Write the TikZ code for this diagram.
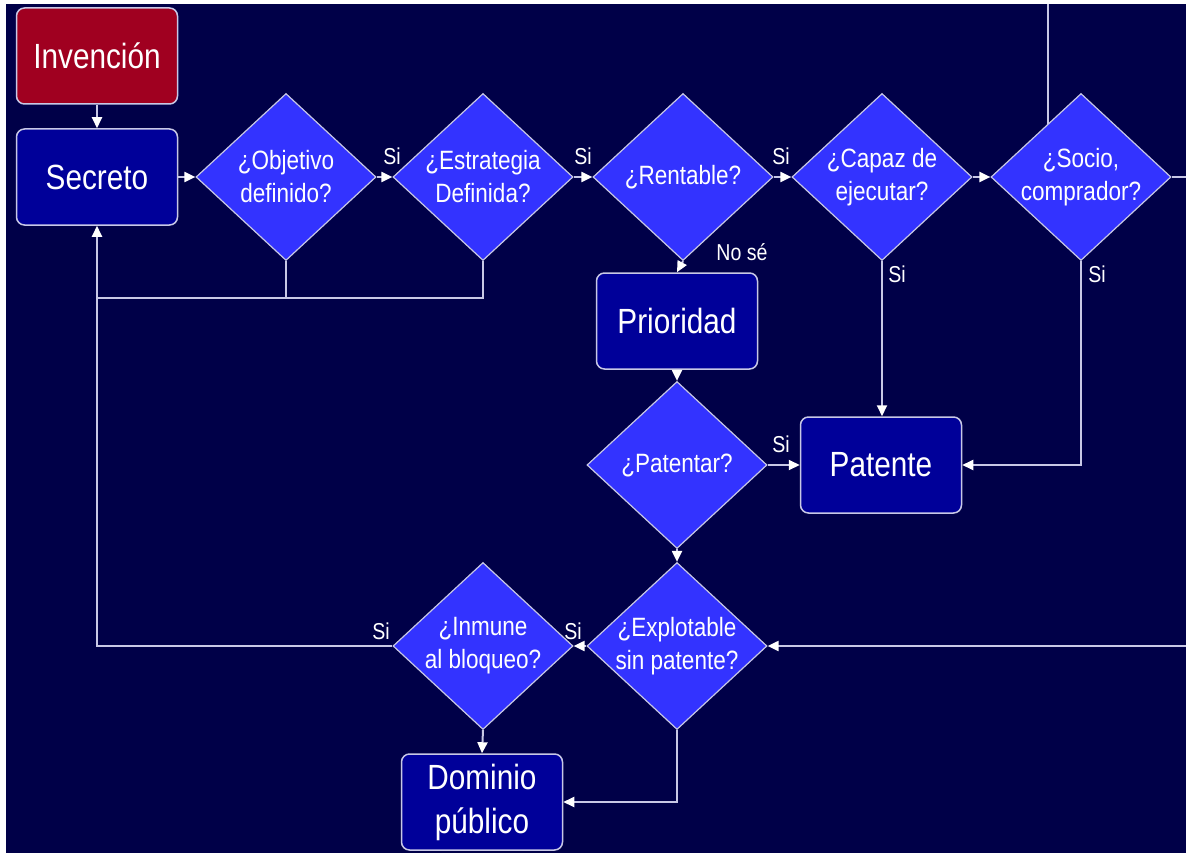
\documentclass[tikz,border=0pt]{standalone}
\usepackage{fontspec}
\setmainfont{Liberation Sans}[FakeStretch=0.85]
\usetikzlibrary{shapes.geometric,arrows.meta}
\definecolor{bg}{RGB}{0,0,72}
\definecolor{boxblue}{RGB}{0,0,153}
\definecolor{diablue}{RGB}{51,51,255}
\definecolor{invred}{RGB}{160,0,32}
\definecolor{ln}{RGB}{200,200,230}
\begin{document}
\begin{tikzpicture}[x=1pt,y=-1pt,
  box/.style={draw=ln, line width=1.5pt, rounded corners=8pt, fill=boxblue, text=white,
    minimum width=161pt, minimum height=96pt, align=center, inner sep=0pt,
    font=\fontsize{35}{44}\selectfont},
  dia/.style={diamond, draw=ln, line width=1.2pt, fill=diablue,
    minimum width=180pt, minimum height=167pt, inner sep=0pt},
  dtext/.style={text=white, align=center, font=\fontsize{26.5}{33}\selectfont, inner sep=0pt},
  lbl/.style={text=white, font=\fontsize{23}{23}\selectfont, inner sep=0pt},
  conn/.style={draw=ln, line width=2pt},
  arr/.style={conn, -{Triangle[length=11pt,width=10pt,color=white,fill=white]}}
]
\useasboundingbox (0,0) rectangle (1186,856);
\fill[white] (0,0) rectangle (1186,856);
\fill[bg] (6,4) rectangle (1186,853);

% boxes
\node[box, fill=invred] (inv) at (97,56) {Invención};
\node[box] (sec) at (97,177) {Secreto};
\node[box] (pri) at (677,321) {Prioridad};
\node[box] (pat) at (881,465) {Patente};
\node[box] (dom) at (482,802) {Dominio\\público};

% diamonds
\node[dia, label={[dtext]center:{¿Objetivo\\definido?}}] (dObj) at (286,177) {};
\node[dia, label={[dtext]center:{¿Estrategia\\Definida?}}] (dEst) at (483,177) {};
\node[dia, label={[dtext]center:{¿Rentable?}}] (dRen) at (683,177) {};
\node[dia, label={[dtext]center:{¿Capaz de\\ejecutar?}}] (dCap) at (882,177) {};
\node[dia, label={[dtext]center:{¿Socio,\\comprador?}}] (dSoc) at (1081,177) {};
\node[dia, label={[dtext]center:{¿Patentar?}}] (dPat) at (677,465) {};
\node[dia, label={[dtext]center:{¿Explotable\\sin patente?}}] (dExp) at (677,646) {};
\node[dia, label={[dtext]center:{¿Inmune\\al bloqueo?}}] (dImm) at (483,646) {};

% helper coordinates
\coordinate (cTop) at (1048,4);
\coordinate (cSocEdge) at (1048,124);
\coordinate (cRight1) at (1186,177);
\coordinate (cRight2) at (1186,646);
\coordinate (jObj) at (286,298);
\coordinate (jSec) at (97,298);

% connectors
\draw[arr] (inv.south) -- (sec.north);
\draw[arr] (sec.east) -- (dObj.west);
\draw[arr] (dObj.east) -- (dEst.west);
\draw[arr] (dEst.east) -- (dRen.west);
\draw[arr] (dRen.east) -- (dCap.west);
\draw[arr] (dCap.east) -- (dSoc.west);
\draw[conn] (dSoc.east) -- (cRight1);
\draw[conn] (cTop) -- (cSocEdge);
\draw[conn] (dObj.south) -- (jObj);
\draw[conn] (dEst.south) |- (jSec);
\draw[arr] (dImm.west) -| (sec.south);
\draw[arr] (dRen.south) -- (pri.north);
\draw[arr] (pri.south) -- (dPat.north);
\draw[arr] (dPat.east) -- (pat.west);
\draw[arr] (dCap.south) -- (dCap.south |- pat.north);
\draw[arr] (dSoc.south) |- (pat.east);
\draw[arr] (dPat.south) -- (dExp.north);
\draw[arr] (cRight2) -- (dExp.east);
\draw[arr] (dExp.west) -- (dImm.east);
\draw[arr] (dImm.south) -- (dom.north);
\draw[arr] (dExp.south) |- (dom.east);

% labels
\node[lbl] (l1) at (392,156) {Si};
\node[lbl] (l2) at (583,156) {Si};
\node[lbl] (l3) at (781,156) {Si};
\node[lbl] (l4) at (742,252) {No sé};
\node[lbl] (l5) at (897,274) {Si};
\node[lbl] (l6) at (1097,274) {Si};
\node[lbl] (l7) at (781,444) {Si};
\node[lbl] (l8) at (573,631) {Si};
\node[lbl] (l9) at (381,631) {Si};
\end{tikzpicture}
\end{document}
